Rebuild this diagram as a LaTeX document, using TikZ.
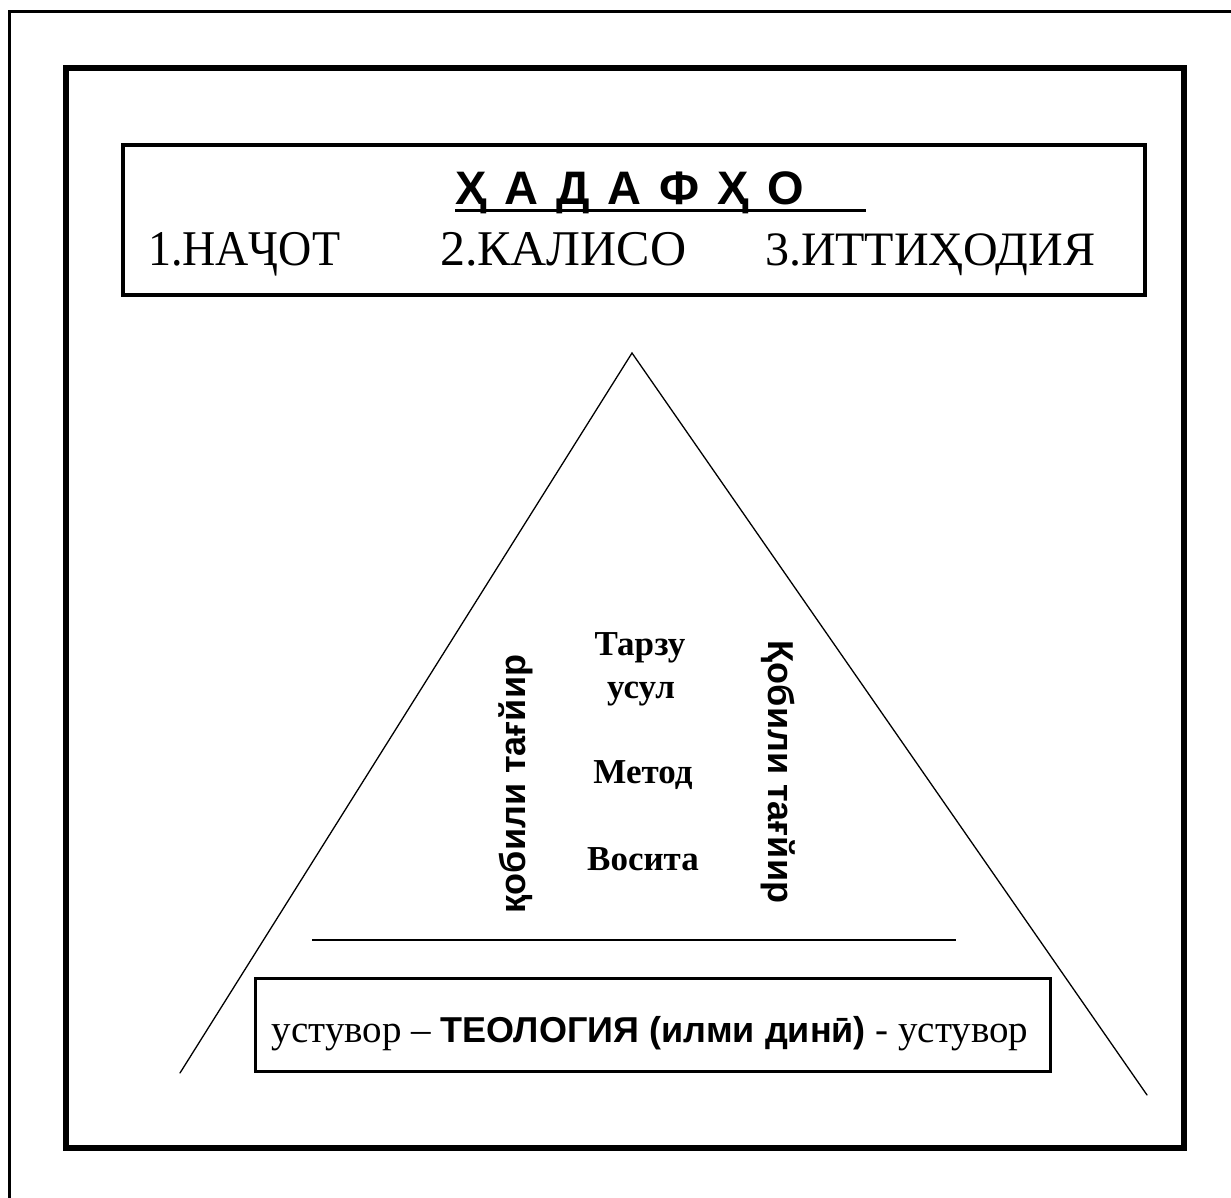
\documentclass[tikz,border=0pt]{standalone}
\usepackage{fontspec}
\setmainfont{Liberation Serif}
\newfontfamily\arial{Liberation Sans}
\newcommand{\tsp}{\hspace{18pt}}
\begin{document}
\begin{tikzpicture}[x=1pt,y=-1pt,
  txt/.style={inner sep=0pt, outer sep=0pt},
  serifbig/.style={txt, font=\fontsize{50}{56}\selectfont, anchor=base west},
  center/.style={txt, font=\bfseries\fontsize{35}{40}\selectfont, anchor=base},
  side/.style={txt, font=\arial\bfseries\fontsize{36}{40}\selectfont},
  thin/.style={line width=1.3pt, line cap=round}]
\useasboundingbox (0,0) rectangle (1231,1198);
% outer frame (partly outside the page)
\draw[line width=3pt] (9,1198) -- (9,12) -- (1231,12);
% thick frame
\draw[line width=6pt] (66,68) rectangle (1184,1148);
% title box
\draw[line width=4pt] (123,145) rectangle (1145,295);
\node[txt, anchor=base west, font=\arial\bfseries\fontsize{47}{50}\selectfont] (title) at (455,205) {Ҳ\tsp А\tsp Д\tsp А\tsp Ф\tsp Ҳ\tsp О};
\draw[line width=3pt] (455,211) -- (866,211);
\node[serifbig, xscale=0.92] (n1) at (148,266) {1.НАҶОТ};
\node[serifbig] (n2) at (440,266) {2.КАЛИСО};
\node[serifbig, font=\fontsize{48}{56}\selectfont] (n3) at (765,266) {3.ИТТИҲОДИЯ};
% triangle
\draw[thin] (180,1073) -- (632,353) -- (1147,1095);
% centre words
\node[center] (t1) at (640,655) {Тарзу};
\node[center] (t2) at (641,698) {усул};
\node[center] (t3) at (643,783) {Метод};
\node[center] (t4) at (643,870) {Восита};
% side words
\node[side, rotate=90] (sl) at (516,784) {қобили тағйир};
\node[side, rotate=-90] (sr) at (778,772) {Қобили тағйир};
% horizontal line
\draw[line width=2pt] (312,940) -- (956,940);
% bottom box
\node[draw, line width=3pt, minimum width=795pt, minimum height=93pt, inner sep=0pt] (base) at (652.5,1024.5) {};
\node[txt, anchor=base, font=\fontsize{39}{44}\selectfont] (basetxt) at (650,1042) {устувор – {\arial\bfseries\fontsize{36}{40}\selectfont ТЕОЛОГИЯ (илми динӣ)} - устувор};
\end{tikzpicture}
\end{document}
